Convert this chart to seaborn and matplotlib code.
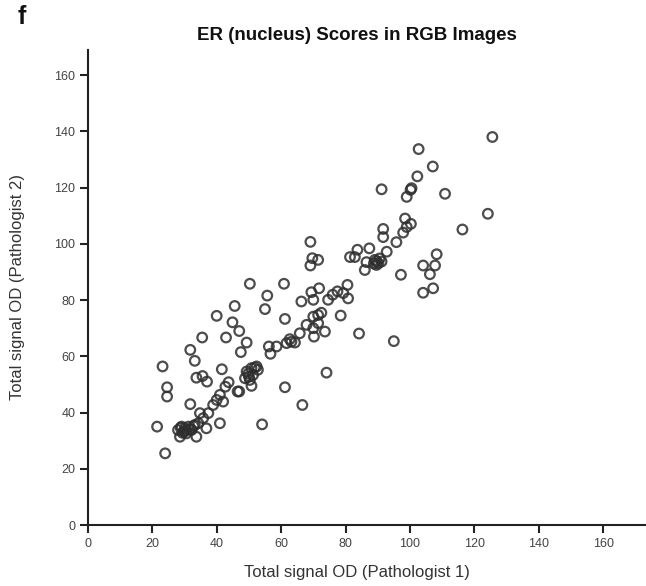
import matplotlib
matplotlib.use('Agg')
import matplotlib.pyplot as plt
import seaborn as sns
import pandas as pd

# Total signal OD, pathologist 1 (x) vs pathologist 2 (y)
path1 = [45.6, 55.0, 40.0, 44.9, 47.0, 35.5, 42.9, 49.3, 31.8, 47.5,
         56.2, 58.6, 56.7, 33.2, 23.2, 41.6, 33.7, 35.6, 37.0, 49.3,
         50.8, 52.4, 51.3, 48.8, 50.3, 52.8, 42.7, 50.8, 24.6, 24.6,
         46.5, 41.0, 40.0, 42.0, 38.9, 31.8, 34.8, 37.4, 35.8, 41.0,
         21.5, 54.1, 28.0, 29.1, 30.1, 31.2, 32.2, 33.2, 34.3, 28.6,
         33.7, 36.8, 30.6, 29.8, 24.0, 28.8, 30.4, 31.6, 29.4, 32.8,
         49.8, 51.8, 50.0, 89.6, 90.6, 88.8,
         125.6, 102.7, 107.1, 102.3, 100.5, 100.2, 91.2, 99.0, 110.9, 124.2,
         116.3, 98.5, 100.3, 99.0, 97.9, 91.7, 91.7, 95.8, 69.1, 92.8,
         87.4, 83.7, 81.4, 82.9, 69.7, 71.5, 69.1, 86.5, 89.1, 90.2,
         91.2, 86.0, 89.6, 97.2, 104.1, 107.8, 106.2, 108.3, 104.1, 107.2,
         60.9, 55.7, 66.3, 70.0, 69.4, 71.8, 74.6, 76.0, 77.5, 79.3,
         80.6, 80.8, 71.5, 70.0, 72.5, 78.5, 61.2,
         71.5, 70.0, 67.9, 65.8, 73.6, 70.2, 84.2, 95.0, 62.7, 63.2,
         64.3, 61.7, 74.1, 61.2, 66.6, 50.3, 47.0, 43.7]
path2 = [77.9, 76.8, 74.4, 72.1, 69.0, 66.7, 66.7, 64.9, 62.3, 61.5,
         63.5, 63.5, 60.9, 58.4, 56.4, 55.4, 52.4, 53.0, 51.0, 54.6,
         55.8, 56.4, 53.4, 52.2, 51.6, 55.2, 49.2, 49.5, 49.0, 45.7,
         47.5, 46.3, 44.5, 43.9, 42.7, 43.0, 39.8, 39.8, 38.0, 36.2,
         35.0, 35.8, 33.8, 35.0, 34.4, 35.0, 33.8, 35.6, 36.2, 31.4,
         31.4, 34.4, 32.6, 33.2, 25.5, 34.6, 33.6, 34.0, 32.8, 35.2,
         53.8, 56.0, 52.8, 93.8, 94.8, 93.0,
         138.0, 133.7, 127.5, 124.0, 119.8, 119.2, 119.4, 116.7, 117.8, 110.7,
         105.1, 109.0, 107.1, 106.0, 104.0, 105.3, 102.4, 100.6, 100.7, 97.2,
         98.4, 97.9, 95.3, 95.3, 94.9, 94.3, 92.3, 93.5, 94.3, 93.1,
         93.7, 90.7, 92.5, 89.0, 92.3, 92.3, 89.2, 96.3, 82.6, 84.2,
         85.8, 81.6, 79.5, 80.1, 82.8, 84.2, 80.1, 81.9, 83.1, 82.5,
         85.4, 80.6, 74.7, 74.1, 75.5, 74.5, 73.3,
         71.8, 70.0, 71.2, 68.2, 68.8, 67.0, 68.1, 65.4, 66.1, 65.2,
         64.9, 64.7, 54.2, 49.0, 42.7, 85.8, 47.5, 50.8]

x_ticks = [0, 20, 40, 60, 80, 100, 120, 140, 160]
y_ticks = [0, 20, 40, 60, 80, 100, 120, 140, 160]

df = pd.DataFrame({'p1': path1, 'p2': path2})

sns.set_style("ticks")
plt.rcParams['font.family'] = ['Liberation Sans', 'DejaVu Sans']

fig = plt.figure(figsize=(6.46, 5.86), dpi=100)
ax = fig.add_axes([0.136, 0.104, 0.864, 0.811])

sns.scatterplot(data=df, x='p1', y='p2', ax=ax, marker='o', s=48,
                facecolors='none', edgecolor='#2e2e2e', linewidth=1.6, alpha=0.85)

ax.set_xlim(0, 173.3)
ax.set_ylim(0, 169)
ax.set_xticks(x_ticks)
ax.set_yticks(y_ticks)
sns.despine(ax=ax)
for s in ['left', 'bottom']:
    ax.spines[s].set_linewidth(1.5)
    ax.spines[s].set_color('#222222')
ax.tick_params(direction='out', length=6, width=1.5, color='#222222',
               labelsize=9, labelcolor='#444444', pad=3)

ax.set_xlabel('Total signal OD (Pathologist 1)', fontsize=12, color='#333333')
ax.set_ylabel('Total signal OD (Pathologist 2)', fontsize=12, color='#333333')
ax.xaxis.set_label_coords((357 - 88) / 558, -0.085)
ax.yaxis.set_label_coords(-0.112, 0.5)

fig.text(357 / 646, 1 - 36 / 586, 'ER (nucleus) Scores in RGB Images',
         fontsize=13.5, fontweight='bold', ha='center', va='center', color='#111111')
fig.text(22 / 646, 1 - 17 / 586, 'f', fontsize=18, fontweight='bold',
         ha='center', va='center', color='#111111')

fig.savefig('out.png', dpi=100)
